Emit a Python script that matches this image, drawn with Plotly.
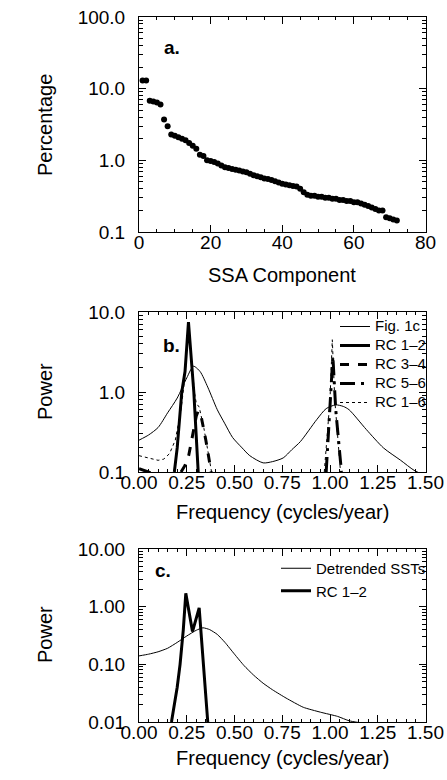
import plotly.graph_objects as go

# ---------------- data ----------------
# Panel a: SSA eigenvalue spectrum (percentage of variance)
ssa_comp = list(range(1, 73))
ssa_pct = [13.0, 13.0, 6.8, 6.6, 6.4, 6.0, 3.7, 3.0, 2.3, 2.2,
           2.1, 2.0, 1.9, 1.75, 1.6, 1.45, 1.2, 1.15, 1.0, 0.98,
           0.95, 0.9, 0.85, 0.8, 0.78, 0.76, 0.74, 0.72, 0.7, 0.68,
           0.65, 0.62, 0.6, 0.58, 0.56, 0.55, 0.53, 0.51, 0.49, 0.47,
           0.46, 0.45, 0.44, 0.43, 0.4, 0.36, 0.33, 0.32, 0.32, 0.31,
           0.31, 0.30, 0.30, 0.29, 0.29, 0.28, 0.28, 0.27, 0.27, 0.26,
           0.26, 0.25, 0.24, 0.23, 0.22, 0.21, 0.2, 0.2, 0.16, 0.155,
           0.15, 0.145]

# Panel b: spectra
fig1c_f = [0, 0.05, 0.1, 0.15, 0.2, 0.25, 0.285, 0.32, 0.36, 0.41, 0.45, 0.49,
           0.54, 0.58, 0.65, 0.7, 0.755, 0.8, 0.845, 0.93, 0.98, 1.03, 1.07,
           1.1, 1.19, 1.28, 1.37, 1.44, 1.5]
fig1c_p = [0.25, 0.29, 0.36, 0.55, 0.84, 1.5, 2.1, 1.8, 1.15, 0.6, 0.4, 0.27,
           0.2, 0.16, 0.13, 0.135, 0.15, 0.19, 0.24, 0.45, 0.62, 0.69, 0.66,
           0.6, 0.34, 0.2, 0.14, 0.105, 0.09]

rc12_f = [0, 0.03, 0.06, None, 0.185, 0.2, 0.224, 0.241, 0.259, 0.27, 0.287, 0.31]
rc12_p = [0.11, 0.105, 0.098, None, 0.1, 0.2, 1.0, 1.8, 7.5, 3.5, 1.0, 0.1]

rc34_f = [0.22, 0.24, 0.26, 0.28, 0.3, 0.31, 0.325, 0.35, 0.378]
rc34_p = [0.1, 0.12, 0.16, 0.27, 0.5, 0.58, 0.5, 0.25, 0.1]

rc56_f = [0.98, 1.0, 1.015, 1.03, 1.06]
rc56_p = [0.1, 0.6, 2.8, 0.6, 0.1]

rc16_f = [0, 0.05, 0.1, 0.13, 0.16, 0.19, 0.22, 0.24, 0.259, 0.27, 0.29, 0.3,
          0.315, 0.34, 0.38, None, 0.97, 1.0, 1.012, 1.025, 1.055]
rc16_p = [0.16, 0.15, 0.14, 0.145, 0.17, 0.25, 0.6, 1.5, 7.0, 3.5, 1.0, 0.72,
          0.65, 0.35, 0.1, None, 0.1, 0.8, 4.5, 0.8, 0.1]

# Panel c: spectra
sst_f = [0, 0.05, 0.1, 0.15, 0.2, 0.25, 0.3, 0.335, 0.37, 0.41, 0.45, 0.5,
         0.55, 0.6, 0.65, 0.7, 0.77, 0.86, 0.95, 1.04, 1.1, 1.15]
sst_p = [0.14, 0.15, 0.165, 0.19, 0.24, 0.31, 0.39, 0.43, 0.40, 0.33, 0.24,
         0.15, 0.095, 0.065, 0.047, 0.036, 0.026, 0.018, 0.0148, 0.0125,
         0.0105, 0.0098]

rc12c_f = [0.17, 0.2, 0.215, 0.232, 0.245, 0.28, 0.315, 0.337, 0.36]
rc12c_p = [0.01, 0.04, 0.1, 0.4, 1.7, 0.37, 0.95, 0.1, 0.01]

# tick labels
a_yvals = [0.1, 1, 10, 100]
a_ytext = ["0.1", "1.0", "10.0", "100.0"]
b_yvals = [0.1, 1, 10]
b_ytext = ["0.1", "1.0", "10.0"]
c_yvals = [0.01, 0.1, 1, 10]
c_ytext = ["0.01", "0.10", "1.00", "10.00"]
f_xvals = [0, 0.25, 0.5, 0.75, 1.0, 1.25, 1.5]
f_xtext = ["0.00", "0.25", "0.50", "0.75", "1.00", "1.25", "1.50"]

# ---------------- figure ----------------
W, H = 447, 780
FONT = "Liberation Sans, Arial, Helvetica, sans-serif"
TF = 19

def px(v):
    return v / W

def py(v):
    return 1 - v / H

def big(s):
    return "<span style='font-size:15px'>%s</span>" % s

xdom = [px(139), px(425.5)]

fig = go.Figure()

fig.add_trace(go.Scatter(x=ssa_comp, y=ssa_pct, mode="markers",
                         marker=dict(color="black", size=6),
                         xaxis="x", yaxis="y", showlegend=False))

thin = 1
thick = 3
fig.add_trace(go.Scatter(x=fig1c_f, y=fig1c_p, mode="lines", name=big("Fig. 1c"),
                         line=dict(color="black", width=thin, shape="spline", smoothing=0.7),
                         xaxis="x2", yaxis="y2", legend="legend"))
fig.add_trace(go.Scatter(x=rc12_f, y=rc12_p, mode="lines", name=big("RC 1\u20132"),
                         line=dict(color="black", width=thick),
                         xaxis="x2", yaxis="y2", legend="legend"))
fig.add_trace(go.Scatter(x=rc34_f, y=rc34_p, mode="lines", name=big("RC 3\u20134"),
                         line=dict(color="black", width=thick, dash="dash"),
                         xaxis="x2", yaxis="y2", legend="legend"))
fig.add_trace(go.Scatter(x=rc56_f, y=rc56_p, mode="lines", name=big("RC 5\u20136"),
                         line=dict(color="black", width=thick, dash="longdashdot"),
                         xaxis="x2", yaxis="y2", legend="legend"))
fig.add_trace(go.Scatter(x=rc16_f, y=rc16_p, mode="lines", name=big("RC 1\u20136"),
                         line=dict(color="black", width=thin, dash="dot"),
                         xaxis="x2", yaxis="y2", legend="legend"))

fig.add_trace(go.Scatter(x=sst_f, y=sst_p, mode="lines", name="Detrended SSTs",
                         line=dict(color="black", width=thin, shape="spline", smoothing=0.5),
                         xaxis="x3", yaxis="y3", legend="legend2"))
fig.add_trace(go.Scatter(x=rc12c_f, y=rc12c_p, mode="lines", name="RC 1\u20132",
                         line=dict(color="black", width=thick),
                         xaxis="x3", yaxis="y3", legend="legend2"))

axcommon = dict(showline=True, linecolor="black", linewidth=1, mirror="ticks",
                ticks="inside", tickcolor="black", ticklen=7, tickwidth=1,
                showgrid=False, zeroline=False, automargin=False,
                tickfont=dict(family=FONT, size=TF, color="black"))
XS = -7   # x tick label standoff
YS = 9    # y tick label standoff

fig.update_layout(
    width=W, height=H,
    margin=dict(l=0, r=0, t=0, b=0, pad=0, autoexpand=False),
    paper_bgcolor="white", plot_bgcolor="white",
    font=dict(family=FONT, color="black"),
    xaxis=dict(domain=xdom, anchor="y", range=[0, 80], tickvals=[0, 20, 40, 60, 80],
               ticklabelstandoff=XS,
               minor=dict(ticks="inside", ticklen=3, dtick=5, tickcolor="black"),
               **axcommon),
    yaxis=dict(domain=[py(232), py(17)], anchor="x", type="log", range=[-1, 2],
               tickvals=a_yvals, ticktext=a_ytext, ticklabelstandoff=YS,
               minor=dict(ticks="inside", ticklen=4, dtick="D1", tickcolor="black"),
               **axcommon),
    xaxis2=dict(domain=xdom, anchor="y2", range=[0, 1.5], tickvals=f_xvals, ticktext=f_xtext,
                ticklabelstandoff=XS,
                minor=dict(ticks="inside", ticklen=3, dtick=0.05, tickcolor="black"),
                **axcommon),
    yaxis2=dict(domain=[py(472), py(312)], anchor="x2", type="log", range=[-1, 1],
                tickvals=b_yvals, ticktext=b_ytext, ticklabelstandoff=YS,
                minor=dict(ticks="inside", ticklen=4, dtick="D1", tickcolor="black"),
                **axcommon),
    xaxis3=dict(domain=xdom, anchor="y3", range=[0, 1.5], tickvals=f_xvals, ticktext=f_xtext,
                ticklabelstandoff=XS,
                minor=dict(ticks="inside", ticklen=3, dtick=0.05, tickcolor="black"),
                **axcommon),
    yaxis3=dict(domain=[py(722), py(549)], anchor="x3", type="log", range=[-2, 1],
                tickvals=c_yvals, ticktext=c_ytext, ticklabelstandoff=YS,
                minor=dict(ticks="inside", ticklen=4, dtick="D1", tickcolor="black"),
                **axcommon),
    legend=dict(x=px(431), y=py(312), xanchor="right", yanchor="top",
                bgcolor="rgba(0,0,0,0)", font=dict(family=FONT, size=12, color="black"),
                itemwidth=30, tracegroupgap=0),
    legend2=dict(x=px(431), y=py(552), xanchor="right", yanchor="top",
                 bgcolor="rgba(0,0,0,0)", font=dict(family=FONT, size=15, color="black"),
                 itemwidth=30, tracegroupgap=0),
)

ann = [
    dict(text="SSA Component", x=px(282), y=py(275)),
    dict(text="Frequency (cycles/year)", x=px(282), y=py(512)),
    dict(text="Frequency (cycles/year)", x=px(282), y=py(758)),
    dict(text="Percentage", x=px(45), y=py(125), textangle=-90),
    dict(text="Power", x=px(45), y=py(392), textangle=-90),
    dict(text="Power", x=px(45), y=py(635), textangle=-90),
]
for a in ann:
    fig.add_annotation(xref="paper", yref="paper", showarrow=False,
                       xanchor="center", yanchor="middle",
                       font=dict(family=FONT, size=TF + 1, color="black"), **a)

for t, x, y in [("a.", 172, 47), ("b.", 171, 345), ("c.", 163, 570)]:
    fig.add_annotation(xref="paper", yref="paper", showarrow=False, text="<b>%s</b>" % t,
                       x=px(x), y=py(y), xanchor="center", yanchor="middle",
                       font=dict(family=FONT, size=TF, color="black"))

fig.write_html(
    "out.html",
    config={"displayModeBar": False, "staticPlot": True},
    post_script="document.body.style.margin='0px';document.body.style.padding='0px';"
                "document.body.style.overflow='hidden';",
)
